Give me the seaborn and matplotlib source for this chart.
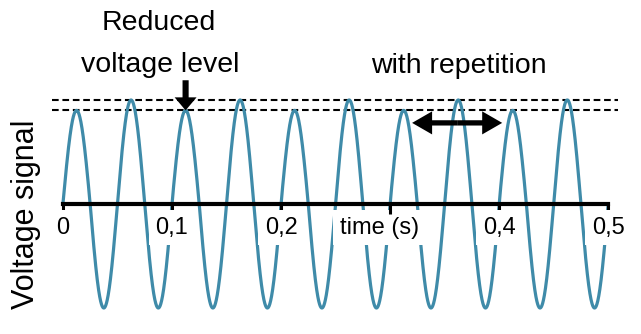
import numpy as np
import pandas as pd
import seaborn as sns
import matplotlib.pyplot as plt
from matplotlib.patches import ArrowStyle

sns.set_theme(style="white")
FONT = ["Liberation Sans", "DejaVu Sans"]
plt.rcParams["font.family"] = FONT

# ---- data ----
freq_hz = 20
duration_s = 0.5
peak_amplitudes = [0.9, 1.0, 0.9, 1.0, 0.9, 1.0, 0.9, 1.0, 0.9, 1.0]
trough_amplitudes = [1.0, 1.0, 1.0, 1.0, 1.0, 1.0, 1.0, 1.0, 1.0, 1.0]
reference_levels = [1.0, 0.9]
tick_values = [0, 0.1, 0.2, 0.3, 0.4, 0.5]
tick_labels = ["0", "0,1", "0,2", "", "0,4", "0,5"]
axis_title = "time (s)"
y_title = "Voltage signal"
note_left = ["Reduced", "voltage level"]
note_right = "with repetition"

# build the waveform: sine whose half-cycles take the amplitudes above
t = np.linspace(0, duration_s, 4001)
s = np.sin(2 * np.pi * freq_hz * t)
cycle = np.clip((t * freq_hz).astype(int), 0, len(peak_amplitudes) - 1)
amp = np.where(s >= 0, np.array(peak_amplitudes)[cycle], np.array(trough_amplitudes)[cycle])
df = pd.DataFrame({"time": t, "voltage": s * amp})

fig = plt.figure(figsize=(6.41, 3.34), dpi=100)
ax = fig.add_axes([52 / 641, 0.0467, 566 / 641, 0.685])

sns.lineplot(data=df, x="time", y="voltage", ax=ax, color="#3f8ba9",
             linewidth=2.3, estimator=None, sort=False, zorder=2)

for lvl in reference_levels:
    ax.axhline(lvl, color="black", lw=1.5, ls=(0, (3.2, 1.8)), zorder=1.8)

ax.set_xlim(-0.01, 0.509)
ax.set_ylim(-1.1, 1.1)

for side in ["left", "right", "top"]:
    ax.spines[side].set_visible(False)
ax.spines["bottom"].set_position(("data", 0))
ax.spines["bottom"].set_bounds(0, duration_s)
ax.spines["bottom"].set_linewidth(3)
ax.spines["bottom"].set_color("black")
ax.spines["bottom"].set_zorder(5)

ax.set_yticks([])
ax.set_xticks(tick_values, tick_labels)
ax.tick_params(axis="x", bottom=True, direction="out", length=7, width=2.2,
               color="black", pad=2, labelsize=17, labelcolor="black")
ax.xaxis.set_zorder(4)
for lbl in ax.get_xticklabels():
    lbl.set_bbox(dict(facecolor="white", edgecolor="none", pad=5))
ax.set_xlabel("")

ax.annotate(axis_title, xy=(0.29, 0), xycoords="data", xytext=(0, -9),
            textcoords="offset points", ha="center", va="top", fontsize=17,
            color="black", zorder=3.5,
            bbox=dict(facecolor="white", edgecolor="none", pad=5))

ax.set_ylabel(y_title, fontsize=22, color="black", ha="center", va="center")
ax.yaxis.set_label_coords(-0.0465, 0.456)

# annotations
ax.text(0.0875, 1.673, note_left[0], ha="center", va="baseline", fontsize=20.5, color="black")
ax.text(0.0895, 1.27, note_left[1], ha="center", va="baseline", fontsize=20.5, color="black")
ax.text(0.363, 1.26, note_right, ha="center", va="baseline", fontsize=20.5, color="black")

peak_t = (2 + 0.25) / freq_hz
ax.annotate("", xy=(peak_t, peak_amplitudes[2]), xytext=(peak_t, 1.19),
            xycoords="data", annotation_clip=False,
            arrowprops=dict(arrowstyle=ArrowStyle("simple", head_length=0.47,
                                                  head_width=0.79, tail_width=0.22),
                            mutation_scale=20, lw=0, color="black",
                            shrinkA=0, shrinkB=0), zorder=6)

mid = 0.3615
for end in (0.3202, 0.4028):
    ax.annotate("", xy=(end, 0.78), xytext=(mid, 0.78), xycoords="data",
                annotation_clip=False,
                arrowprops=dict(arrowstyle=ArrowStyle("simple", head_length=0.72,
                                                      head_width=0.83, tail_width=0.19),
                                mutation_scale=20, lw=0, color="black",
                                shrinkA=0, shrinkB=0), zorder=6)

fig.savefig("out.png", dpi=100)
